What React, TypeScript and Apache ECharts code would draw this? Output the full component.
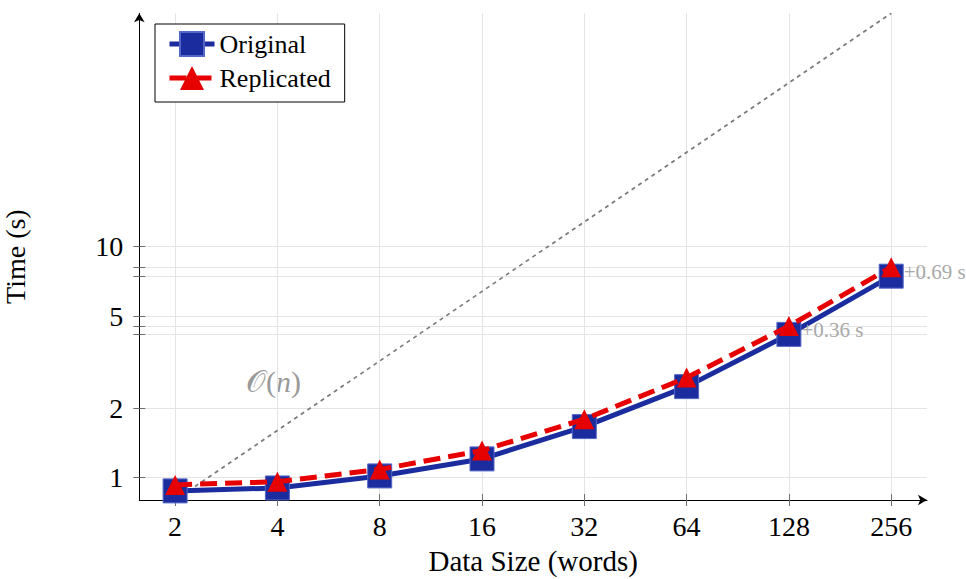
import React, { useEffect, useRef } from "react";
import * as echarts from "echarts";

// ---- data ----
const SIZES = [2, 4, 8, 16, 32, 64, 128, 256];
const ORIGINAL = [0.876, 0.902, 1.017, 1.205, 1.663, 2.477, 4.17, 7.45];
const REPLICATED = [0.93, 0.96, 1.085, 1.31, 1.79, 2.71, 4.53, 8.14];
const Y_TICKS = [1, 2, 5, 10];
const ANNOTATED = [6, 7]; // indices whose gap is marked
const ON_FACTOR = 0.4; // reference O(n) line: t = 0.4 * n
const ON_ENDS = [2, 256];

const FONT = '"Liberation Serif", "Times New Roman", serif';
const BLUE = "#1b2d9e";
const RED = "#e60000";

export default function App() {
  const ref = useRef<HTMLDivElement>(null);
  useEffect(() => {
    if (!ref.current) return;
    const chart = echarts.init(ref.current, undefined, { renderer: "svg" });

    const onLine = ON_ENDS.map((n) => [n, ON_FACTOR * n]);
    const yMin = onLine[0][1];
    const yMax = onLine[1][1];
    const lg = (v: number) => Math.log2(v);
    const span = lg(SIZES[SIZES.length - 1]) - lg(SIZES[0]);
    const xMin = Math.pow(2, lg(SIZES[0]) - 0.05 * span);
    const xMax = Math.pow(2, lg(SIZES[SIZES.length - 1]) + 0.05 * span);

    const extraTicks: number[] = [];
    ANNOTATED.forEach((i) => extraTicks.push(ORIGINAL[i], REPLICATED[i]));
    const yTickValues = [...Y_TICKS, ...extraTicks];

    const origData = SIZES.map((x, i) => {
      const item: any = { value: [x, ORIGINAL[i]] };
      if (ANNOTATED.includes(i)) {
        item.label = {
          show: true,
          position: "right",
          distance: 0,
          offset: [0, -4],
          formatter: "+" + (REPLICATED[i] - ORIGINAL[i]).toFixed(2) + " s",
          color: "#a9a9a9",
          fontSize: 21,
          fontFamily: FONT,
        };
      }
      return item;
    });
    const repData = SIZES.map((x, i) => [x, REPLICATED[i]]);

    const gridColor = "#e4e4e4";
    const tickColor = "#6e6e6e";

    const option: any = {
      animation: false,
      backgroundColor: "#fff",
      textStyle: { fontFamily: FONT },
      grid: {
        left: 139.3,
        right: 39,
        top: 13.3,
        bottom: 79,
        containLabel: false,
        outerBoundsMode: "none",
      },
      legend: {
        data: ["Original", "Replicated"],
        orient: "vertical",
        left: 155,
        top: 24,
        backgroundColor: "#fff",
        borderColor: "#000",
        borderWidth: 1,
        borderRadius: 0,
        padding: [7, 14, 11, 12],
        itemGap: 8,
        itemWidth: 45,
        itemHeight: 30,
        lineStyle: { width: 5 },
        textStyle: { fontSize: 26, fontFamily: FONT, color: "#000" },
      },
      xAxis: [
        {
          type: "log",
          logBase: 2,
          min: xMin,
          max: xMax,
          name: "Data Size (words)",
          nameLocation: "middle",
          nameGap: 46,
          nameTextStyle: { fontSize: 29, fontFamily: FONT, color: "#000" },
          axisLine: {
            show: true,
            lineStyle: { color: "#000", width: 1 },
            symbol: ["none", "arrow"],
            symbolSize: [8, 9],
          },
          axisTick: { show: true, customValues: SIZES, length: 6, lineStyle: { color: tickColor } },
          axisLabel: {
            customValues: SIZES,
            fontSize: 28,
            fontFamily: FONT,
            color: "#000",
            margin: 12,
            formatter: (v: number) => String(Math.round(v)),
          },
          splitLine: { show: true, lineStyle: { color: gridColor, width: 1 } },
          minorTick: { show: false },
        },
        {
          type: "log",
          logBase: 2,
          min: xMin,
          max: xMax,
          position: "bottom",
          axisLine: { show: false },
          axisTick: { show: true, inside: true, customValues: SIZES, length: 6, lineStyle: { color: tickColor } },
          axisLabel: { show: false },
          splitLine: { show: false },
        },
      ],
      yAxis: [
        {
          type: "log",
          logBase: 10,
          min: yMin,
          max: yMax,
          name: "Time (s)",
          nameLocation: "middle",
          nameGap: 110,
          nameRotate: 90,
          nameTextStyle: { fontSize: 28, fontFamily: FONT, color: "#000" },
          axisLine: {
            show: true,
            lineStyle: { color: "#000", width: 1 },
            symbol: ["none", "arrow"],
            symbolSize: [8, 9],
          },
          axisTick: { show: true, customValues: yTickValues, length: 6, lineStyle: { color: tickColor } },
          axisLabel: {
            customValues: Y_TICKS,
            fontSize: 28,
            fontFamily: FONT,
            color: "#000",
            margin: 16,
            formatter: (v: number) => String(Math.round(v)),
          },
          splitLine: { show: true, lineStyle: { color: gridColor, width: 1 } },
        },
        {
          type: "log",
          logBase: 10,
          min: yMin,
          max: yMax,
          position: "left",
          axisLine: { show: false },
          axisTick: { show: true, inside: true, customValues: yTickValues, length: 6, lineStyle: { color: tickColor } },
          axisLabel: { show: false },
          splitLine: { show: false },
        },
      ],
      graphic: [
        {
          type: "text",
          left: 246,
          top: 366,
          silent: true,
          style: {
            text: "{a|𝒪}{b|(}{c|n}{b|)}",
            fill: "#9a9a9a",
            rich: {
              a: { fontSize: 31, fontFamily: FONT, fill: "#9a9a9a", color: "#9a9a9a" },
              b: { fontSize: 30, fontFamily: FONT, fill: "#9a9a9a", color: "#9a9a9a" },
              c: { fontSize: 30, fontFamily: FONT, fontStyle: "italic", fill: "#9a9a9a", color: "#9a9a9a" },
            },
          },
        },
      ],
      series: [
        {
          name: "O(n)",
          type: "line",
          data: onLine,
          symbol: "none",
          silent: true,
          lineStyle: { color: "#7a7a7a", width: 1.7, type: [4, 4] },
          z: 1,
        },
        {
          name: "Original",
          type: "line",
          data: origData,
          symbol: "rect",
          symbolSize: 24,
          color: BLUE,
          lineStyle: { color: BLUE, width: 5 },
          itemStyle: { color: BLUE, borderColor: "#5566c4", borderWidth: 1 },
          z: 3,
        },
        {
          name: "Replicated",
          type: "line",
          data: repData,
          symbol: "triangle",
          symbolSize: 20,
          color: RED,
          lineStyle: { color: RED, width: 5, type: [17, 8] },
          itemStyle: { color: RED },
          z: 4,
        },
      ],
    };
    chart.setOption(option);
    return () => chart.dispose();
  }, []);
  return (
    <div
      ref={ref}
      style={{ position: "absolute", left: 0, top: 0, width: 966, height: 579 }}
    />
  );
}
